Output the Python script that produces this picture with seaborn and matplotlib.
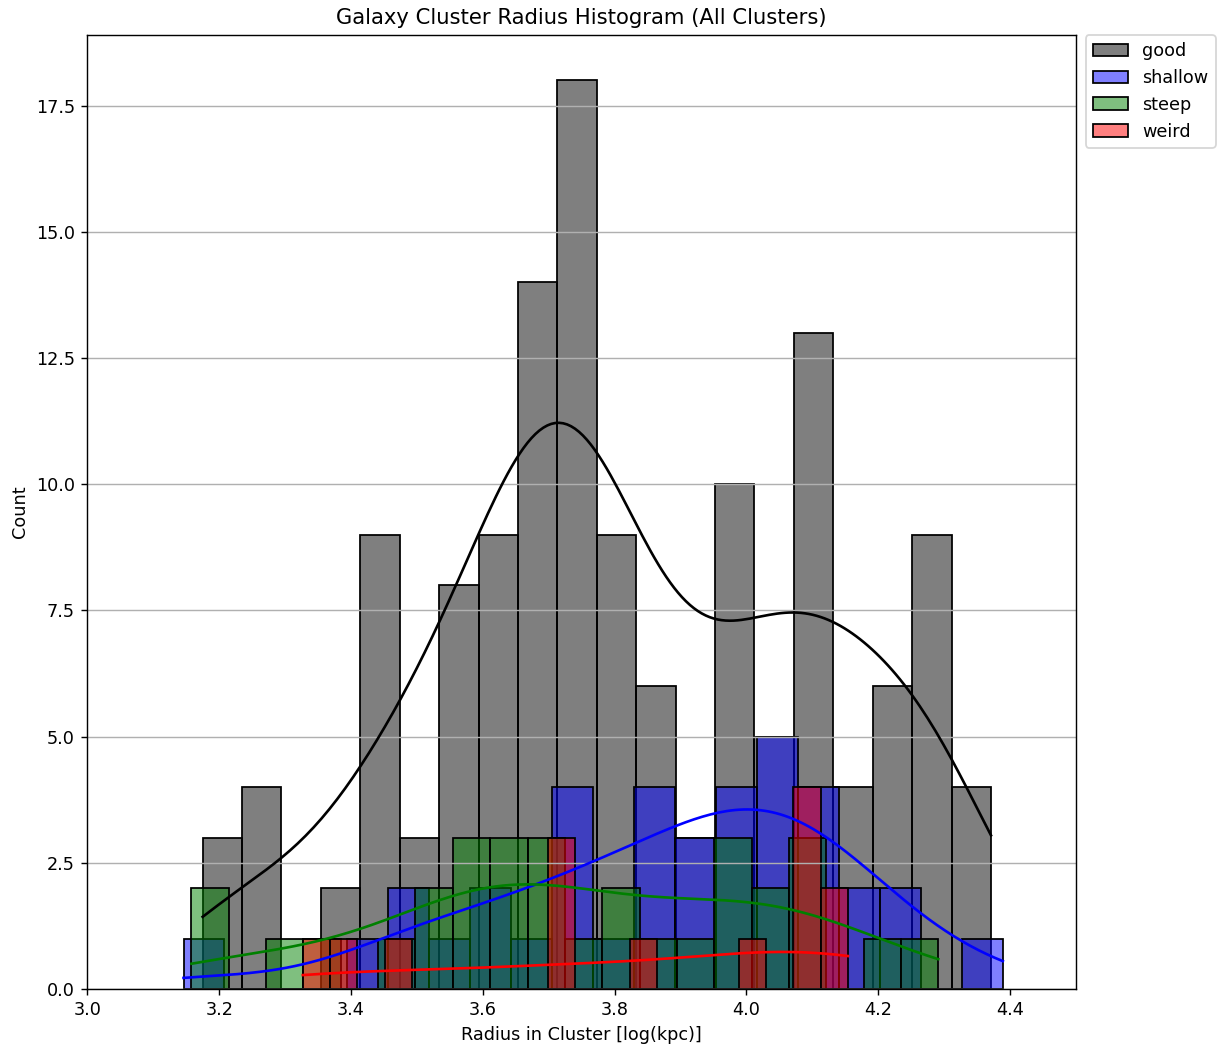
import numpy as np
import pandas as pd
import matplotlib
matplotlib.use("Agg")
import matplotlib.pyplot as plt
import seaborn as sns

# ---- data (20 bins per group) ----
groups = ["good", "shallow", "steep", "weird"]
colors = ["black", "blue", "green", "red"]

# bin range (log kpc) of each group: (min, max)
good_range = (3.175, 4.371)
shallow_range = (3.146, 4.389)
steep_range = (3.158, 4.291)
weird_range = (3.327, 4.154)

good_counts = [3, 4, 0, 2, 9, 3, 8, 9, 14, 18, 9, 6, 3, 10, 5, 13, 4, 6, 9, 4]
shallow_counts = [1, 0, 0, 0, 1, 2, 1, 2, 1, 4, 1, 4, 3, 4, 5, 4, 2, 2, 0, 1]
steep_counts = [2, 0, 1, 1, 0, 1, 2, 3, 3, 3, 1, 2, 1, 1, 3, 2, 3, 0, 1, 1]
weird_counts = [1, 1, 0, 1, 0, 0, 0, 0, 0, 3, 0, 0, 1, 0, 0, 0, 1, 0, 4, 2]

ranges = [good_range, shallow_range, steep_range, weird_range]
counts = [good_counts, shallow_counts, steep_counts, weird_counts]
n_bins = 20

DPI = 127
fig = plt.figure(figsize=(1225 / DPI, 1050 / DPI), dpi=DPI)
ax = fig.add_axes([87.3 / 1225, 1 - 989 / 1050, (1076 - 87.3) / 1225, (989 - 35) / 1050])

for name, col, rng, cnt in zip(groups, colors, ranges, counts):
    edges = np.linspace(rng[0], rng[1], n_bins + 1)
    centers = 0.5 * (edges[:-1] + edges[1:])
    values = np.repeat(centers, cnt)
    df = pd.DataFrame({"radius": values})
    # extend the KDE support to the outer bin edges (data min/max)
    n = len(values)
    bw = np.std(values, ddof=1) * n ** (-1 / 5)
    half = 0.5 * (edges[1] - edges[0])
    cut = half / bw
    sns.histplot(data=df, x="radius", bins=n_bins, binrange=rng, kde=True,
                 color=col, alpha=0.5, label=name, ax=ax,
                 kde_kws={"cut": cut})

ax.set_xlim(3.0, 4.5)
ax.grid(axis="y")
ax.set_title("Galaxy Cluster Radius Histogram (All Clusters)")
ax.set_xlabel("Radius in Cluster [log(kpc)]")
ax.set_ylabel("Count")
ax.legend(bbox_to_anchor=(1.01, 1), loc="upper left", borderaxespad=0)

fig.savefig("out.png", dpi=DPI)
